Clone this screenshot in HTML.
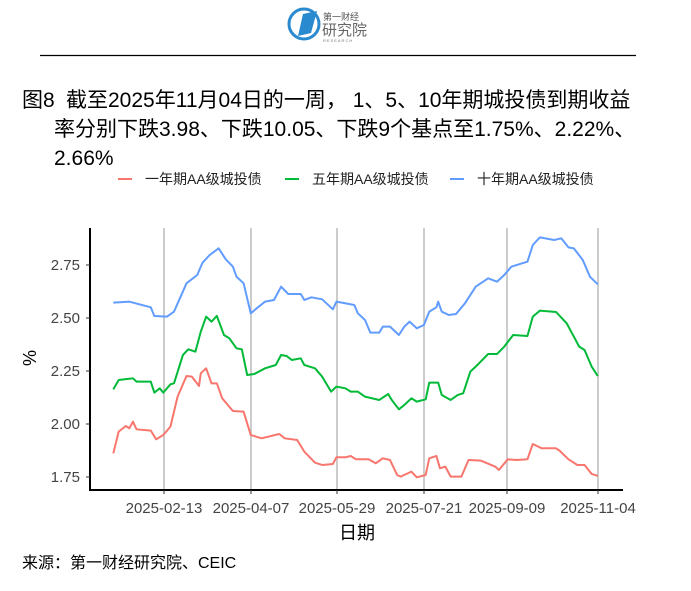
<!DOCTYPE html>
<html><head><meta charset="utf-8"><style>
body{margin:0;background:#fff;width:691px;height:591px;overflow:hidden;font-family:"Liberation Sans","Noto Sans CJK SC",sans-serif;}
</style></head><body>
<svg width="691" height="591" viewBox="0 0 691 591" xmlns="http://www.w3.org/2000/svg" style="position:absolute;left:0;top:0;font-family:'Liberation Sans','Noto Sans CJK SC',sans-serif">
<circle cx="304" cy="24" r="15" fill="none" stroke="#2a8ad0" stroke-width="3"/>
<polygon points="298,36 303,14 317,11 311,33" fill="#2a8ad0"/>
<text x="323" y="20" font-size="9" fill="#555">第一财经</text>
<text x="322" y="35" font-size="15" fill="#666">研究院</text>
<text x="323" y="42" font-size="4" fill="#777" letter-spacing="1">RESEARCH</text>
<line x1="40" y1="55.5" x2="636" y2="55.5" stroke="#000" stroke-width="1.2"/>
<text x="22" y="107" font-size="21" fill="#000">图8</text>
<text x="66" y="107" font-size="21" fill="#000">截至2025年11月04日的一周， 1、5、10年期城投债到期收益</text>
<text x="54" y="136" font-size="21" fill="#000">率分别下跌3.98、下跌10.05、下跌9个基点至1.75%、2.22%、</text>
<text x="54" y="165" font-size="21" fill="#000">2.66%</text>
<g font-size="14" fill="#222">
<line x1="118" y1="179" x2="132" y2="179" stroke="#f8766d" stroke-width="2"/><text x="145" y="184">一年期AA级城投债</text>
<line x1="285" y1="179" x2="299" y2="179" stroke="#00ba38" stroke-width="2"/><text x="312" y="184">五年期AA级城投债</text>
<line x1="450" y1="179" x2="464" y2="179" stroke="#619cff" stroke-width="2"/><text x="477" y="184">十年期AA级城投债</text>
</g>
<g stroke="#bbb" stroke-width="1.5">
<line x1="164" y1="228" x2="164" y2="490"/><line x1="251" y1="228" x2="251" y2="490"/><line x1="337" y1="228" x2="337" y2="490"/><line x1="424" y1="228" x2="424" y2="490"/><line x1="507" y1="228" x2="507" y2="490"/><line x1="598" y1="228" x2="598" y2="490"/>
</g>
<g fill="none" stroke-width="2" stroke-linejoin="round" transform="matrix(0.357 0 0 0.3333 79.4 220)">
<polyline vector-effect="non-scaling-stroke" stroke="#619cff" points="95,248 140,245 200,262 210,288 245,290 265,275 300,190 330,165 345,128 365,105 390,85 410,118 430,140 440,170 460,190 480,280 500,262 520,245 545,240 565,200 585,222 620,222 630,240 650,232 680,238 710,268 720,245 770,255 780,280 800,300 815,338 840,338 850,320 870,320 895,345 910,320 925,305 945,325 965,315 980,275 1000,262 1005,245 1015,275 1035,285 1055,282 1080,250 1110,200 1145,175 1170,185 1190,165 1210,140 1240,130 1255,125 1270,75 1290,52 1330,60 1350,55 1370,82 1385,85 1410,120 1430,170 1452,193"/>
<polyline vector-effect="non-scaling-stroke" stroke="#00ba38" points="95,508 110,480 150,475 160,485 200,485 210,518 225,505 235,518 255,493 265,490 290,405 305,388 325,395 340,335 355,290 370,305 385,288 405,345 420,355 440,385 455,388 470,465 490,462 520,445 550,435 565,405 580,408 595,420 620,415 630,435 660,445 680,470 705,515 720,500 745,505 760,515 780,515 800,530 840,540 865,522 875,540 895,568 910,555 930,535 945,545 970,538 980,488 1005,488 1015,525 1040,540 1060,525 1075,520 1095,455 1110,440 1145,402 1170,402 1190,380 1215,345 1255,348 1270,290 1290,272 1335,276 1365,310 1380,340 1400,380 1415,390 1435,440 1452,468"/>
<polyline vector-effect="non-scaling-stroke" stroke="#f8766d" points="95,700 110,635 130,618 140,625 150,605 160,628 200,632 215,658 235,645 255,620 275,530 300,468 315,470 335,498 340,460 355,445 370,490 385,490 400,535 430,573 460,575 480,645 510,655 560,642 575,655 610,660 630,695 660,728 680,735 710,732 720,712 745,712 760,708 775,718 810,718 830,730 850,715 870,720 890,765 900,770 930,755 945,772 970,765 980,715 1000,708 1010,745 1025,740 1040,770 1070,770 1090,720 1125,722 1165,740 1175,750 1200,718 1225,720 1255,718 1270,672 1295,685 1335,685 1345,692 1370,718 1395,735 1415,735 1435,762 1452,768"/>
</g>
<g stroke="#000" stroke-width="2"><line x1="90" y1="228" x2="90" y2="491"/><line x1="89" y1="490" x2="623" y2="490"/></g>
<g stroke="#333" stroke-width="1">
<line x1="86" y1="265" x2="90" y2="265"/><line x1="86" y1="318" x2="90" y2="318"/><line x1="86" y1="371" x2="90" y2="371"/><line x1="86" y1="424" x2="90" y2="424"/><line x1="86" y1="477" x2="90" y2="477"/>
<line x1="164" y1="490" x2="164" y2="494"/><line x1="251" y1="490" x2="251" y2="494"/><line x1="337" y1="490" x2="337" y2="494"/><line x1="424" y1="490" x2="424" y2="494"/><line x1="507" y1="490" x2="507" y2="494"/><line x1="598" y1="490" x2="598" y2="494"/>
</g>
<g font-size="15" fill="#444" text-anchor="end">
<text x="80" y="270">2.75</text><text x="80" y="323">2.50</text><text x="80" y="376">2.25</text><text x="80" y="429">2.00</text><text x="80" y="482">1.75</text>
</g>
<g font-size="15" fill="#444" text-anchor="middle">
<text x="164" y="513">2025-02-13</text><text x="251" y="513">2025-04-07</text><text x="337" y="513">2025-05-29</text><text x="424" y="513">2025-07-21</text><text x="507" y="513">2025-09-09</text><text x="598" y="513">2025-11-04</text>
</g>
<text x="357" y="539" font-size="18" text-anchor="middle" fill="#000">日期</text>
<text x="36" y="358" font-size="18" text-anchor="middle" fill="#000" transform="rotate(-90 36 358)">%</text>
<text x="22" y="568" font-size="16" fill="#000">来源：第一财经研究院、CEIC</text>
</svg>
</body></html>
